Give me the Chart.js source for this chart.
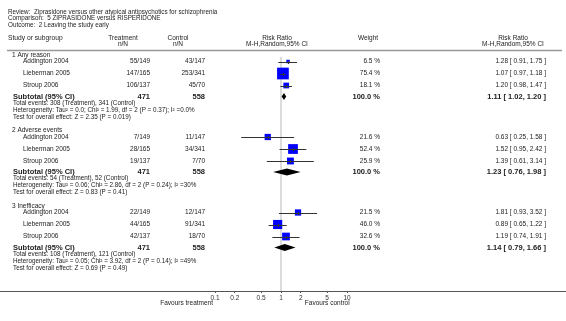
<!DOCTYPE html>
<html>
<head>
<meta charset="utf-8">
<script src="https://cdn.jsdelivr.net/npm/chart.js@4/dist/chart.umd.min.js"></script>
<style>
html, body { margin: 0; padding: 0; background: #fff; }
#wrap { position: relative; width: 566px; height: 321px; }
</style>
</head>
<body>
<div id="wrap"><canvas id="forest"></canvas></div>
<script>
// header texts
var titleLines = [
    'Review:  Ziprasidone versus other atypical antipsychotics for schizophrenia',
    'Comparison:  5 ZIPRASIDONE versus RISPERIDONE',
    'Outcome:  2 Leaving the study early'
];

// subgroups and studies
var groupNames = ['1 Any reason', '2 Adverse events', '3 Inefficacy'];
var studyNames = ['Addington 2004', 'Lieberman 2005', 'Stroup 2006'];
var treatmentCounts = [['55/149', '147/165', '106/137'], ['7/149', '28/165', '19/137'], ['22/149', '44/165', '42/137']];
var controlCounts = [['43/147', '253/341', '45/70'], ['11/147', '34/341', '7/70'], ['12/147', '91/341', '18/70']];
var studyWeights = [[6.5, 75.4, 18.1], [21.6, 52.4, 25.9], [21.5, 46.0, 32.6]];
var studyRR = [[1.28, 1.07, 1.20], [0.63, 1.52, 1.39], [1.81, 0.89, 1.19]];
var studyLow = [[0.91, 0.97, 0.98], [0.25, 0.95, 0.61], [0.93, 0.65, 0.74]];
var studyHigh = [[1.75, 1.18, 1.47], [1.58, 2.42, 3.14], [3.52, 1.22, 1.91]];

// subtotals
var subtotalTreatmentN = [471, 471, 471];
var subtotalControlN = [558, 558, 558];
var subtotalRR = [1.11, 1.23, 1.14];
var subtotalLow = [1.02, 0.76, 0.79];
var subtotalHigh = [1.20, 1.98, 1.66];
var totalEvents = [
    'Total events: 308 (Treatment), 341 (Control)',
    'Total events: 54 (Treatment), 52 (Control)',
    'Total events: 108 (Treatment), 121 (Control)'
];
var heterogeneity = [
    'Heterogeneity: Tau\u00b2 = 0.0; Chi\u00b2 = 1.99, df = 2 (P = 0.37); I\u00b2 =0.0%',
    'Heterogeneity: Tau\u00b2 = 0.06; Chi\u00b2 = 2.86, df = 2 (P = 0.24); I\u00b2 =30%',
    'Heterogeneity: Tau\u00b2 = 0.05; Chi\u00b2 = 3.92, df = 2 (P = 0.14); I\u00b2 =49%'
];
var overallEffect = [
    'Test for overall effect: Z = 2.35 (P = 0.019)',
    'Test for overall effect: Z = 0.83 (P = 0.41)',
    'Test for overall effect: Z = 0.69 (P = 0.49)'
];

// axis
var tickValues = [0.1, 0.2, 0.5, 1, 2, 5, 10];
var tickLabels = ['0.1', '0.2', '0.5', '1', '2', '5', '10'];

// row layout (y axis runs in pixel-like units, top = 0)
var GROUP_TOP = 55, GROUP_STEP = 75.5;
function groupY(g) { return GROUP_TOP + g * GROUP_STEP; }
function studyY(g, i) { return groupY(g) + 6.5 + 12 * i; }
function subtotalY(g) { return groupY(g) + 41.5; }
function noteY(g, k) { return groupY(g) + 48 + 7 * k; }

var FONT = '"Liberation Sans", Arial, sans-serif';
var TEXT = '#222';

var squarePoints = [];
var squareRadius = [];
for (var g = 0; g < groupNames.length; g++) {
    for (var i = 0; i < studyNames.length; i++) {
        squarePoints.push({ x: studyRR[g][i], y: studyY(g, i) });
        var side = Math.max(3.5, 1.35 * Math.sqrt(studyWeights[g][i]));
        squareRadius.push(side / Math.SQRT2);
    }
}

function txt(ctx, s, x, y, align, size, bold) {
    ctx.font = (bold ? 'bold ' : '') + size + 'px ' + FONT;
    ctx.textAlign = align;
    ctx.textBaseline = 'middle';
    ctx.fillStyle = TEXT;
    ctx.fillText(s, x, y);
}

var forestPlugin = {
    id: 'forestPlugin',
    beforeDraw: function (chart) {
        var ctx = chart.ctx;
        ctx.save();
        ctx.fillStyle = '#fff';
        ctx.fillRect(0, 0, chart.width, chart.height);
        ctx.restore();
    },
    beforeDatasetsDraw: function (chart) {
        var ctx = chart.ctx, x = chart.scales.x, y = chart.scales.y;
        ctx.save();
        ctx.strokeStyle = '#dcdcdc';
        ctx.lineWidth = 2;
        ctx.beginPath();
        ctx.moveTo(x.getPixelForValue(1), y.getPixelForValue(GROUP_TOP + 2));
        ctx.lineTo(x.getPixelForValue(1), chart.chartArea.bottom);
        ctx.stroke();
        ctx.restore();
    },
    afterDatasetsDraw: function (chart) {
        var ctx = chart.ctx, x = chart.scales.x, y = chart.scales.y;
        ctx.save();
        ctx.strokeStyle = '#333';
        ctx.lineWidth = 1;
        for (var g = 0; g < groupNames.length; g++) {
            for (var i = 0; i < studyNames.length; i++) {
                var py = Math.round(y.getPixelForValue(studyY(g, i))) + 0.5;
                ctx.beginPath();
                ctx.moveTo(x.getPixelForValue(studyLow[g][i]), py);
                ctx.lineTo(x.getPixelForValue(studyHigh[g][i]), py);
                var px = Math.round(x.getPixelForValue(studyRR[g][i])) + 0.5;
                ctx.moveTo(px, py - 1.5);
                ctx.lineTo(px, py + 1.5);
                ctx.stroke();
            }
            // pooled diamond
            var dy = y.getPixelForValue(subtotalY(g));
            ctx.fillStyle = '#000';
            ctx.beginPath();
            ctx.moveTo(x.getPixelForValue(subtotalLow[g]), dy);
            ctx.lineTo(x.getPixelForValue(subtotalRR[g]), dy - 3.5);
            ctx.lineTo(x.getPixelForValue(subtotalHigh[g]), dy);
            ctx.lineTo(x.getPixelForValue(subtotalRR[g]), dy + 3.5);
            ctx.closePath();
            ctx.fill();
        }
        ctx.restore();
    },
    afterDraw: function (chart) {
        var ctx = chart.ctx, x = chart.scales.x, y = chart.scales.y;
        var area = chart.chartArea;
        var NAME_X = 23, GROUP_X = 12, TREAT_R = 150, CTRL_R = 205, WEIGHT_R = 380, RR_R = 546;
        var PLOT_C = x.getPixelForValue(1) - 4;
        ctx.save();

        txt(ctx, titleLines[0], 8, 12, 'left', 6.3);
        txt(ctx, titleLines[1], 8, 18.5, 'left', 6.3);
        txt(ctx, titleLines[2], 8, 25, 'left', 6.3);

        txt(ctx, 'Study or subgroup', 8, 38, 'left', 6.7);
        txt(ctx, 'Treatment', 123, 38, 'center', 6.5);
        txt(ctx, 'n/N', 123, 44.5, 'center', 6.5);
        txt(ctx, 'Control', 178, 38, 'center', 6.5);
        txt(ctx, 'n/N', 178, 44.5, 'center', 6.5);
        txt(ctx, 'Risk Ratio', PLOT_C, 38, 'center', 6.5);
        txt(ctx, 'M-H,Random,95% CI', PLOT_C, 44.5, 'center', 6.5);
        txt(ctx, 'Weight', 368, 38, 'center', 6.5);
        txt(ctx, 'Risk Ratio', 513, 38, 'center', 6.5);
        txt(ctx, 'M-H,Random,95% CI', 513, 44.5, 'center', 6.5);

        ctx.strokeStyle = '#999';
        ctx.lineWidth = 1.5;
        ctx.beginPath();
        ctx.moveTo(7, 50.5);
        ctx.lineTo(562, 50.5);
        ctx.stroke();

        for (var g = 0; g < groupNames.length; g++) {
            txt(ctx, groupNames[g], GROUP_X, y.getPixelForValue(groupY(g)), 'left', 6.5);
            for (var i = 0; i < studyNames.length; i++) {
                var py = y.getPixelForValue(studyY(g, i));
                txt(ctx, studyNames[i], NAME_X, py, 'left', 6.5);
                txt(ctx, treatmentCounts[g][i], TREAT_R, py, 'right', 6.5);
                txt(ctx, controlCounts[g][i], CTRL_R, py, 'right', 6.5);
                txt(ctx, studyWeights[g][i].toFixed(1) + ' %', WEIGHT_R, py, 'right', 6.5);
                txt(ctx, studyRR[g][i].toFixed(2) + ' [ ' + studyLow[g][i].toFixed(2) + ', ' + studyHigh[g][i].toFixed(2) + ' ]', RR_R, py, 'right', 6.5);
            }
            var sy = y.getPixelForValue(subtotalY(g));
            txt(ctx, 'Subtotal (95% CI)', 13, sy, 'left', 7.5, true);
            txt(ctx, String(subtotalTreatmentN[g]), TREAT_R, sy, 'right', 7.5, true);
            txt(ctx, String(subtotalControlN[g]), CTRL_R, sy, 'right', 7.5, true);
            txt(ctx, '100.0 %', WEIGHT_R, sy, 'right', 7.5, true);
            txt(ctx, subtotalRR[g].toFixed(2) + ' [ ' + subtotalLow[g].toFixed(2) + ', ' + subtotalHigh[g].toFixed(2) + ' ]', RR_R, sy, 'right', 7.5, true);
            txt(ctx, totalEvents[g], 13, y.getPixelForValue(noteY(g, 0)), 'left', 6.3);
            txt(ctx, heterogeneity[g], 13, y.getPixelForValue(noteY(g, 1)), 'left', 6.3);
            txt(ctx, overallEffect[g], 13, y.getPixelForValue(noteY(g, 2)), 'left', 6.3);
        }

        // axis line across the page
        ctx.strokeStyle = '#555';
        ctx.lineWidth = 1;
        ctx.beginPath();
        ctx.moveTo(0, Math.round(area.bottom) + 0.5);
        ctx.lineTo(chart.width, Math.round(area.bottom) + 0.5);
        ctx.stroke();

        txt(ctx, 'Favours treatment', x.getPixelForValue(0.1) - 2, area.bottom + 12, 'right', 6.5);
        txt(ctx, 'Favours control', x.getPixelForValue(2) + 4, area.bottom + 12, 'left', 6.5);
        ctx.restore();
    }
};

var forestChart = new Chart(document.getElementById('forest'), {
    type: 'scatter',
    data: {
        datasets: [
            {
                label: 'Studies',
                data: squarePoints,
                pointStyle: 'rect',
                pointRadius: squareRadius,
                pointHoverRadius: squareRadius,
                backgroundColor: '#0000ff',
                borderWidth: 0
            }
        ]
    },
    options: {
        animation: false,
        responsive: true,
        maintainAspectRatio: false,
        events: [],
        layout: {
            autoPadding: false,
            padding: { left: 215, right: 219, top: 0, bottom: 0 }
        },
        plugins: {
            legend: { display: false },
            tooltip: { enabled: false }
        },
        scales: {
            x: {
                type: 'logarithmic',
                min: 0.1,
                max: 10,
                afterBuildTicks: function (scale) {
                    scale.ticks = tickValues.map(function (v) { return { value: v }; });
                },
                afterFit: function (scale) { scale.height = 30; },
                ticks: {
                    autoSkip: false,
                    maxRotation: 0,
                    padding: 1,
                    color: '#333',
                    font: { family: FONT, size: 6.5 },
                    callback: function (v) {
                        var k = tickValues.indexOf(v);
                        return k >= 0 ? tickLabels[k] : '';
                    }
                },
                grid: { display: true, drawOnChartArea: false, drawTicks: true, tickLength: 2, color: '#555' },
                border: { display: false }
            },
            y: {
                type: 'linear',
                min: 0,
                max: 291,
                reverse: true,
                display: false
            }
        }
    },
    plugins: [forestPlugin]
});
</script>
</body>
</html>
